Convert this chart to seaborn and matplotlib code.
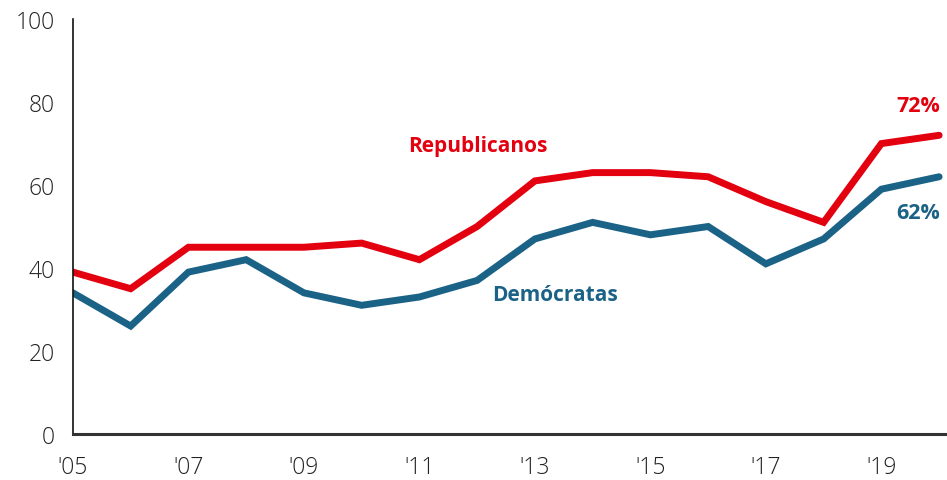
import matplotlib
matplotlib.use("Agg")
import matplotlib.pyplot as plt
import seaborn as sns
import pandas as pd

years = list(range(2005, 2021))
republicanos = [39, 35, 45, 45, 45, 46, 42, 50, 61, 63, 63, 62, 56, 51, 70, 72]
democratas = [34, 26, 39, 42, 34, 31, 33, 37, 47, 51, 48, 50, 41, 47, 59, 62]
xtick_years = [2005, 2007, 2009, 2011, 2013, 2015, 2017, 2019]
xtick_labels = ["'05", "'07", "'09", "'11", "'13", "'15", "'17", "'19"]
yticks = [0, 20, 40, 60, 80, 100]

red = "#e3000f"
blue = "#1b6287"

sns.set_style("white")
plt.rcParams['font.family'] = ['Open Sans', 'DejaVu Sans']

df = pd.DataFrame({"year": years * 2,
                   "value": republicanos + democratas,
                   "party": ["Republicanos"] * len(years) + ["Demócratas"] * len(years)})

fig = plt.figure(figsize=(9.47, 4.81), dpi=100)
ax = fig.add_axes([0.077, 0.096, 0.922, 0.862])
sns.lineplot(data=df, x="year", y="value", hue="party",
             palette={"Republicanos": red, "Demócratas": blue},
             linewidth=5.0, ax=ax, legend=False, solid_capstyle="round",
             solid_joinstyle="miter")

ax.set_xlim(2005, 2020.12)
ax.set_ylim(0, 100)
ax.set_xticks(xtick_years)
ax.set_xticklabels(xtick_labels)
ax.set_yticks(yticks)
ax.set_xlabel("")
ax.set_ylabel("")
for s in ["top", "right"]:
    ax.spines[s].set_visible(False)
ax.spines["left"].set_color("#111111")
ax.spines["left"].set_linewidth(1.2)
ax.spines["bottom"].set_color("#333333")
ax.spines["bottom"].set_linewidth(2.2)
ax.tick_params(axis="both", which="both", length=7, width=1.2, color="#111111",
               labelsize=16.5, labelcolor="#222222", direction="out", pad=6)
ax.tick_params(axis="x", pad=8)
for lab in ax.get_xticklabels() + ax.get_yticklabels():
    lab.set_fontweight("light")

ax.text(2012.02, 69.6, "Republicanos", color=red, fontsize=15, fontweight="bold",
        ha="center", va="center")
ax.text(2013.34, 33.7, "Demócratas", color=blue, fontsize=15, fontweight="bold",
        ha="center", va="center")
ax.text(2020.02, 79.3, "72%", color=red, fontsize=15.5, fontweight="bold",
        ha="right", va="center")
ax.text(2020.02, 53.3, "62%", color=blue, fontsize=15.5, fontweight="bold",
        ha="right", va="center")

fig.savefig("out.png", dpi=100)
